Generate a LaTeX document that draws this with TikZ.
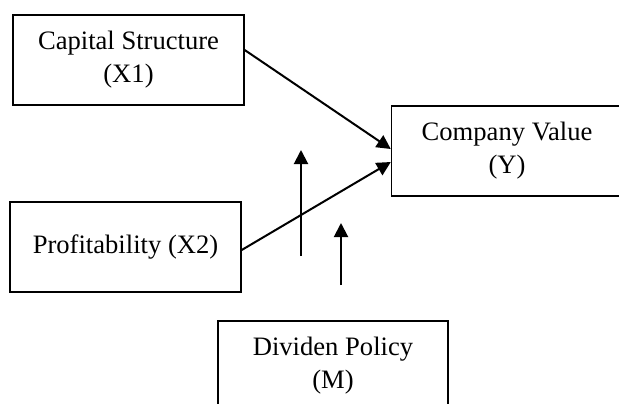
\documentclass[tikz,border=0pt]{standalone}
\usepackage{fontspec}
\setmainfont{Liberation Serif}
\usepackage{tikz}
\usetikzlibrary{arrows.meta,positioning}
\tikzset{
  varbox/.style={rectangle, draw=black, line width=0.7pt, align=center,
                 minimum width=115.5pt, minimum height=45pt, inner sep=0pt,
                 font=\fontsize{13.3}{16.5}\selectfont},
  effect/.style={-{Triangle[length=7pt,width=7pt]}, line width=1pt},
}

\begin{document}
\begin{tikzpicture}[x=0.5pt,y=-0.5pt]
  \clip (0,0) rectangle (619,403);
  \useasboundingbox (0,0) rectangle (619,403);

  % variables
  \node[varbox] (x1) at (128.5,60)  {Capital Structure\\(X1)};
  \node[varbox] (x2) at (125.5,247) {Profitability (X2)};
  \node[varbox] (y)  at (507,151)   {Company Value\\(Y)};
  \node[varbox, minimum width=115pt] (m) at (333,366) {Dividen Policy\\(M)};

  % direct effects
  \draw[effect] ([yshift=5pt]x1.east) -- ([yshift=1pt]y.west);
  \draw[effect] ([yshift=-1.5pt]x2.east) -- ([yshift=-5.5pt]y.west);

  % moderation
  \coordinate (m1a) at (301,256);
  \coordinate (m1b) at (301,150);
  \coordinate (m2a) at (341,285);
  \coordinate (m2b) at (341,223);
  \draw[effect] (m1a) -- (m1b);
  \draw[effect] (m2a) -- (m2b);
\end{tikzpicture}
\end{document}
